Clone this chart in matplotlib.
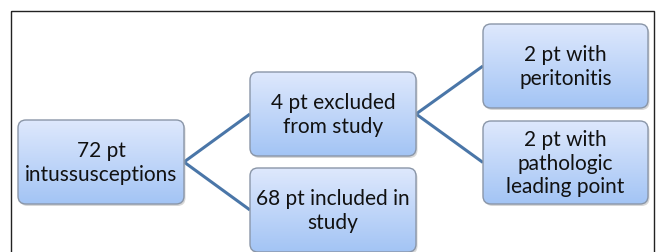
import numpy as np
import matplotlib
matplotlib.use("Agg")
import matplotlib.pyplot as plt
from matplotlib.patches import FancyBboxPatch, Rectangle

# node labels
labels = ["72 pt\nintussusceptions",
          "4 pt excluded\nfrom study",
          "68 pt included in\nstudy",
          "2 pt with\nperitonitis",
          "2 pt with\npathologic\nleading point"]
# parent -> child links
links = [(0, 1), (0, 2), (1, 3), (1, 4)]

# box layout in pixels (x0, y0, x1, y1), image y goes down
boxes = [(18, 121, 184, 205),
         (250, 73, 416, 157),
         (250, 169, 416, 253),
         (483, 25, 648, 109),
         (483, 122, 648, 205)]

W, H = 656, 253
fig = plt.figure(figsize=(W / 100, H / 100), dpi=100)
ax = fig.add_axes([0, 0, 1, 1])
ax.set_xlim(0, W)
ax.set_ylim(H, 0)
ax.axis("off")

# outer frame
ax.add_patch(Rectangle((11, 12), 643, 260, fill=False, ec="#222222", lw=1.0))

# connectors
for a, b in links:
    xa = boxes[a][2]
    ya = (boxes[a][1] + boxes[a][3]) / 2
    xb = boxes[b][0]
    yb = (boxes[b][1] + boxes[b][3]) / 2
    ax.plot([xa, xb], [ya, yb], color="#4a76a8", lw=2.2, solid_capstyle="butt", zorder=1)

# vertical gradient for box fill
top = np.array([0.87, 0.91, 0.99])
bot = np.array([0.64, 0.77, 0.96])
t = np.linspace(0, 1, 64)[:, None]
grad = (top * (1 - t) + bot * t)[:, None, :]

for (x0, y0, x1, y1), txt in zip(boxes, labels):
    w, h = x1 - x0, y1 - y0
    # soft shadow
    sh = FancyBboxPatch((x0 + 1.5, y0 + 2), w, h, boxstyle="round,pad=0,rounding_size=8",
                        fc="#b0b0b0", ec="none", alpha=0.5, zorder=2)
    ax.add_patch(sh)
    p = FancyBboxPatch((x0, y0), w, h, boxstyle="round,pad=0,rounding_size=8",
                       fc="none", ec="#8a96a8", lw=1.0, zorder=4)
    ax.add_patch(p)
    im = ax.imshow(grad, extent=(x0, x1, y1, y0), aspect="auto", zorder=3)
    im.set_clip_path(p)
    ax.text((x0 + x1) / 2, (y0 + y1) / 2, txt, ha="center", va="center",
            fontsize=15, family="Lato", color="#111111", linespacing=1.2, zorder=5)

ax.set_xlim(0, W)
ax.set_ylim(H, 0)
fig.savefig("out.png", dpi=100)
